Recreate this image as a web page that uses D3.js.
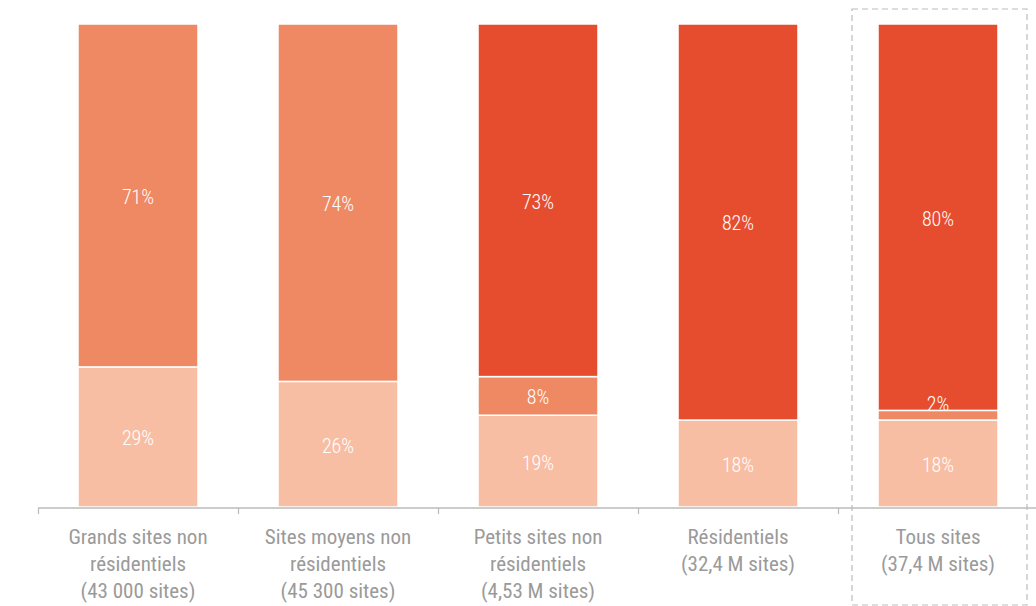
<!DOCTYPE html>
<html>
<head>
<meta charset="utf-8">
<script src="https://cdn.jsdelivr.net/npm/d3@7"></script>
<style>
  body { margin: 0; background: #fff; }
  svg { display: block; font-family: Roboto, "Open Sans", sans-serif; font-stretch: 80%; }
</style>
</head>
<body>
<svg id="chart"></svg>
<script>
// categories (each label split into lines)
var categories = ["grands", "moyens", "petits", "residentiels", "tous"];
var categoryLabels = [
    ["Grands sites non", "résidentiels", "(43 000 sites)"],
    ["Sites moyens non", "résidentiels", "(45 300 sites)"],
    ["Petits sites non", "résidentiels", "(4,53 M sites)"],
    ["Résidentiels", "(32,4 M sites)"],
    ["Tous sites", "(37,4 M sites)"]
];

// shares, stacked bottom to top
var lightShare  = [29, 26, 19, 18, 18];
var mediumShare = [71, 74, 8, 0, 2];
var darkShare   = [0, 0, 73, 82, 80];

var seriesKeys = ["light", "medium", "dark"];
var seriesColors = ["#f8bea3", "#ee8963", "#e64d2e"];

var data = categories.map(function(c, i) {
    return { cat: c, light: lightShare[i], medium: mediumShare[i], dark: darkShare[i] };
});

var W = 1036, H = 606;
var margin = { top: 24, left: 38, bottom: 99 };

var svg = d3.select("#chart").attr("width", W).attr("height", H);

var x = d3.scaleBand()
    .domain(categories)
    .range([margin.left, margin.left + 1000])
    .paddingInner(0.4)
    .paddingOuter(0.2);

var y = d3.scaleLinear()
    .domain([0, 100])
    .range([H - margin.bottom, margin.top]);

var color = d3.scaleOrdinal().domain(seriesKeys).range(seriesColors);

var stacked = d3.stack().keys(seriesKeys)(data);

// dashed box around the total
var xb = x("tous") - x.step() * x.paddingInner() / 2;
svg.append("rect")
    .attr("x", xb + 14)
    .attr("y", 9)
    .attr("width", x.step() - 25)
    .attr("height", 596)
    .attr("fill", "none")
    .attr("stroke", "#bbb")
    .attr("stroke-width", 1.2)
    .attr("stroke-dasharray", "6,4");

// bars
var layers = svg.selectAll(".layer")
    .data(stacked)
    .enter().append("g")
    .attr("class", "layer")
    .attr("fill", function(d) { return color(d.key); });

layers.selectAll("rect")
    .data(function(d) { return d.filter(function(s) { return s[1] - s[0] > 0; }); })
    .enter().append("rect")
    .attr("x", function(d) { return x(d.data.cat); })
    .attr("width", x.bandwidth())
    .attr("y", function(d) { return y(d[1]); })
    .attr("height", function(d) { return y(d[0]) - y(d[1]); })
    .attr("stroke", "#fff")
    .attr("stroke-width", 1.5);

// labels, drawn over all the bars
var segments = [];
stacked.forEach(function(layer) {
    layer.forEach(function(s) { if (s[1] - s[0] > 0) segments.push(s); });
});

svg.append("g").selectAll("text")
    .data(segments)
    .enter().append("text")
    .attr("x", function(d) { return x(d.data.cat) + x.bandwidth() / 2; })
    .attr("y", function(d) {
        var mid = (y(d[0]) + y(d[1])) / 2;
        return (y(d[0]) - y(d[1]) < 20) ? mid - 13 : mid;
    })
    .attr("dy", "0.42em")
    .attr("text-anchor", "middle")
    .attr("fill", "#fff")
    .style("font-size", "20px")
    .style("font-weight", 300)
    .text(function(d) { return (d[1] - d[0]) + "%"; });

// axis
var axisY = H - margin.bottom + 1;
svg.append("line")
    .attr("x1", margin.left).attr("x2", W)
    .attr("y1", axisY).attr("y2", axisY)
    .attr("stroke", "#bbb")
    .attr("stroke-width", 1.5);

var bounds = categories.map(function(c) { return x(c) - x.step() * x.paddingInner() / 2; });
bounds.push(bounds[bounds.length - 1] + x.step());
svg.selectAll(".tick")
    .data(bounds)
    .enter().append("line")
    .attr("class", "tick")
    .attr("x1", function(d) { return d + 0.5; })
    .attr("x2", function(d) { return d + 0.5; })
    .attr("y1", axisY)
    .attr("y2", axisY + 6)
    .attr("stroke", "#bbb")
    .attr("stroke-width", 1.2);

var labels = svg.selectAll(".cat-label")
    .data(categories)
    .enter().append("text")
    .attr("class", "cat-label")
    .attr("x", function(c) { return x(c) + x.bandwidth() / 2; })
    .attr("y", 544)
    .attr("text-anchor", "middle")
    .attr("fill", "#9a9a9a")
    .style("font-size", "21px");

labels.selectAll("tspan")
    .data(function(c, i) { return categoryLabels[i]; })
    .enter().append("tspan")
    .attr("x", function() { return d3.select(this.parentNode).attr("x"); })
    .attr("dy", function(d, i) { return i === 0 ? 0 : 27; })
    .text(function(d) { return d; });
</script>
</body>
</html>
